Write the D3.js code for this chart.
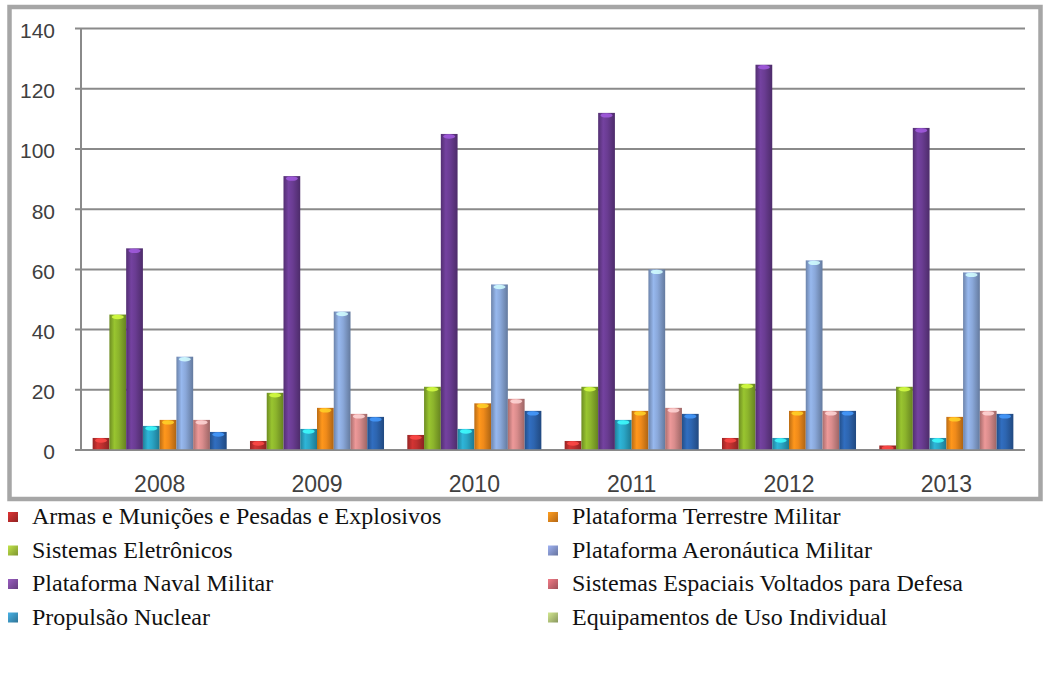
<!DOCTYPE html>
<html>
<head>
<meta charset="utf-8">
<script src="https://cdn.jsdelivr.net/npm/d3@7"></script>
<style>
  html, body { margin: 0; padding: 0; background: #ffffff; }
  svg { display: block; }
</style>
</head>
<body>
<svg id="chart" width="1050" height="673"></svg>
<script>
// ---------------- data ----------------
const years = ["2008", "2009", "2010", "2011", "2012", "2013"];
const seriesNames = [
  "Armas e Munições e Pesadas e Explosivos",
  "Sistemas Eletrônicos",
  "Plataforma Naval Militar",
  "Propulsão Nuclear",
  "Plataforma Terrestre Militar",
  "Plataforma Aeronáutica Militar",
  "Sistemas Espaciais Voltados para Defesa",
  "Equipamentos de Uso Individual"
];
const armas       = [4, 3, 5, 3, 4, 1.5];
const eletronicos = [45, 19, 21, 21, 22, 21];
const naval       = [67, 91, 105, 112, 128, 107];
const propulsao   = [8, 7, 7, 10, 4, 4];
const terrestre   = [10, 14, 15.5, 13, 13, 11];
const aeronautica = [31, 46, 55, 60, 63, 59];
const espaciais   = [10, 12, 17, 14, 13, 13];
const equipamentos= [6, 11, 13, 12, 13, 12];
const yTicks = [0, 20, 40, 60, 80, 100, 120, 140];
// legend order (two columns, column-major)
const legendOrder = [0, 1, 2, 3, 4, 5, 6, 7];

const seriesValues = [armas, eletronicos, naval, propulsao, terrestre, aeronautica, espaciais, equipamentos];

// ---------------- styles ----------------
const barColors = ["#c0302f", "#8cb42c", "#6a3c92", "#2aa6c6", "#ef8a1a", "#8aa8da", "#d98c8c", "#2d65b0"];
const legendColors = ["#b42a2a", "#9cb83c", "#7c4c9c", "#3a90ba", "#e0801a", "#8090c4", "#c4646e", "#aabb74"];

const svg = d3.select("#chart");
const margin = { left: 81, right: 1025, top: 28.6, bottom: 450 };

const x0 = d3.scaleBand().domain(years).range([margin.left, margin.right]).paddingInner(0.148).paddingOuter(0.074);
const x1 = d3.scaleBand().domain(d3.range(seriesNames.length)).range([0, x0.bandwidth()]).padding(0);
const y = d3.scaleLinear().domain([0, 140]).range([margin.bottom, margin.top]);

// gradients
const defs = svg.append("defs");
barColors.forEach((c, i) => {
  const g = defs.append("linearGradient").attr("id", "g" + i).attr("x1", "0%").attr("x2", "100%");
  const base = d3.color(c);
  g.append("stop").attr("offset", "0%").attr("stop-color", d3.color(c).darker(0.7));
  g.append("stop").attr("offset", "30%").attr("stop-color", d3.color(c).brighter(0.25));
  g.append("stop").attr("offset", "55%").attr("stop-color", base);
  g.append("stop").attr("offset", "100%").attr("stop-color", d3.color(c).darker(0.9));
});
legendColors.forEach((c, i) => {
  const g = defs.append("linearGradient").attr("id", "lg" + i).attr("x1", "0%").attr("x2", "100%").attr("y1", "0%").attr("y2", "100%");
  g.append("stop").attr("offset", "0%").attr("stop-color", d3.color(c).brighter(0.6));
  g.append("stop").attr("offset", "100%").attr("stop-color", d3.color(c).darker(0.6));
});

// outer frame
svg.append("rect")
  .attr("x", 9.5).attr("y", 7).attr("width", 1031).attr("height", 492)
  .attr("fill", "#ffffff").attr("stroke", "#a6a6a6").attr("stroke-width", 4.5);

// gridlines
const grid = svg.append("g");
grid.selectAll("line").data(yTicks).join("line")
  .attr("x1", margin.left - 6).attr("x2", margin.right)
  .attr("y1", d => y(d)).attr("y2", d => y(d))
  .attr("stroke", "#8a8a8a").attr("stroke-width", 2);

// left axis line
svg.append("line")
  .attr("x1", margin.left).attr("x2", margin.left)
  .attr("y1", y(140)).attr("y2", y(0))
  .attr("stroke", "#8a8a8a").attr("stroke-width", 2);

// y axis tick labels
const yAxis = d3.axisLeft(y).tickValues(yTicks).tickSize(0).tickPadding(0);
const yg = svg.append("g").attr("transform", `translate(${margin.left - 26},0)`).call(yAxis);
yg.select(".domain").remove();
yg.selectAll("text")
  .attr("font-family", "'Liberation Sans', Arial, sans-serif")
  .attr("font-size", 21).attr("fill", "#404040")
  .attr("dy", "0.42em");

// x axis labels
const xAxis = d3.axisBottom(x0).tickSize(0).tickPadding(0);
const xg = svg.append("g").attr("transform", `translate(0,${y(0)})`).call(xAxis);
xg.select(".domain").remove();
xg.selectAll("text")
  .attr("font-family", "'Liberation Sans', Arial, sans-serif")
  .attr("font-size", 23).attr("fill", "#404040")
  .attr("y", 26).attr("dy", "0.71em");

// bars
const groups = svg.append("g").selectAll("g").data(years).join("g")
  .attr("transform", d => `translate(${x0(d)},0)`);

groups.each(function(year, yi) {
  const g = d3.select(this);
  const vals = seriesValues.map((arr, si) => ({ si, v: arr[yi] }));
  g.selectAll("rect.bar").data(vals).join("rect")
    .attr("class", "bar")
    .attr("x", d => x1(d.si))
    .attr("y", d => y(d.v))
    .attr("width", x1.bandwidth())
    .attr("height", d => y(0) - y(d.v))
    .attr("fill", d => `url(#g${d.si})`);
  g.selectAll("ellipse.cap").data(vals).join("ellipse")
    .attr("class", "cap")
    .attr("cx", d => x1(d.si) + x1.bandwidth() / 2)
    .attr("cy", d => y(d.v) + 2.5)
    .attr("rx", x1.bandwidth() * 0.36)
    .attr("ry", 2.2)
    .attr("fill", d => d3.color(barColors[d.si]).brighter(1.2))
    .attr("opacity", 0.85);
});

// baseline
svg.append("line")
  .attr("x1", margin.left).attr("x2", margin.right)
  .attr("y1", y(0)).attr("y2", y(0))
  .attr("stroke", "#8a8a8a").attr("stroke-width", 1.5);

// legend
const legend = svg.append("g");
const legItems = legendOrder.map((si, k) => ({ si, col: Math.floor(k / 4), row: k % 4 }));
const colX = [8, 548];
const rowY0 = 516, rowStep = 33.5;
const li = legend.selectAll("g").data(legItems).join("g")
  .attr("transform", d => `translate(${colX[d.col]},${rowY0 + d.row * rowStep})`);
li.append("rect")
  .attr("x", 0).attr("y", -4).attr("width", 10).attr("height", 10)
  .attr("fill", d => `url(#lg${d.si})`);
li.append("text")
  .attr("x", 24).attr("y", 0).attr("dy", "0.35em")
  .attr("font-family", "'Liberation Serif', 'Times New Roman', serif")
  .attr("font-size", 24).attr("fill", "#111111")
  .text(d => seriesNames[d.si]);
</script>
</body>
</html>
